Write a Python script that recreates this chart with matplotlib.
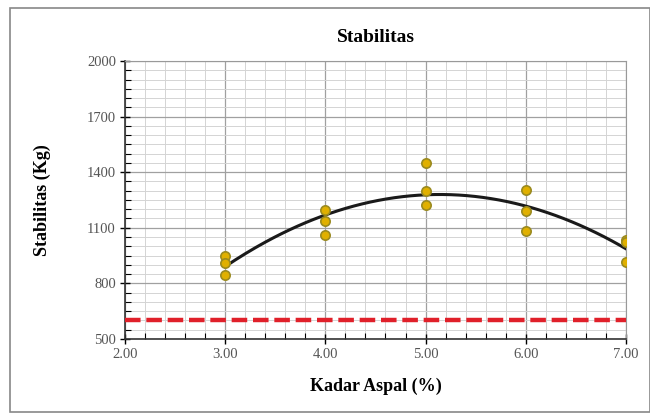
import matplotlib
matplotlib.use('Agg')
import matplotlib.pyplot as plt
import numpy as np
from matplotlib.patches import Rectangle
from matplotlib.ticker import MultipleLocator, FixedLocator, FormatStrFormatter

# kadar aspal (%) and stabilitas (kg)
kadar = [3, 3, 3, 4, 4, 4, 5, 5, 5, 6, 6, 6, 7, 7, 7]
stabilitas = [948, 912, 845, 1196, 1137, 1061, 1451, 1299, 1223,
              1304, 1191, 1083, 1034, 1022, 917]
batas_min = 600  # spesifikasi minimum

plt.rcParams['font.family'] = ['Liberation Serif', 'DejaVu Serif']

fig = plt.figure(figsize=(6.5, 4.2), dpi=100)
ax = fig.add_axes([0.1923, 0.193, 0.7707, 0.6618])

# trendline (polinomial orde 2)
coef = np.polyfit(kadar, stabilitas, 2)
xs = np.linspace(3, 7, 200)
ax.plot(xs, np.polyval(coef, xs), color='#1a1a1a', lw=2.2, zorder=3)

ax.scatter(kadar, stabilitas, s=45, color='#e0b000', edgecolors='#9a8a20',
           linewidths=1.2, zorder=4)

ax.plot([2, 7], [batas_min, batas_min], color='#e0202a', lw=3.2,
        ls=(0, (3.5, 1.3)), zorder=3)

ax.set_xlim(2, 7)
ax.set_ylim(500, 2000)
ax.xaxis.set_major_locator(MultipleLocator(1))
ax.xaxis.set_minor_locator(MultipleLocator(0.2))
ax.yaxis.set_major_locator(FixedLocator(np.arange(500, 2001, 300)))
ax.yaxis.set_minor_locator(MultipleLocator(50))
ax.xaxis.set_major_formatter(FormatStrFormatter('%.2f'))

ax.grid(which='major', color='#a0a0a0', lw=0.9)
ax.grid(which='minor', color='#d4d4d4', lw=0.7)
ax.set_axisbelow(True)

ax.tick_params(which='major', direction='inout', length=7, width=1,
               labelsize=10.5, labelcolor='#555555', pad=3)
ax.tick_params(which='minor', direction='in', length=4, width=0.8)
for side in ['left', 'bottom']:
    ax.spines[side].set_linewidth(1.2)
    ax.spines[side].set_color('#333333')
for side in ['top', 'right']:
    ax.spines[side].set_color('#999999')

ax.set_title('Stabilitas', fontsize=14, fontweight='bold', pad=14)
ax.set_xlabel('Kadar Aspal (%)', fontsize=13, fontweight='bold', labelpad=12)
ax.set_ylabel('Stabilitas (Kg)', fontsize=13, fontweight='bold', labelpad=26)

# bingkai chart
fig.patches.append(Rectangle((10 / 650, 8 / 420), 640 / 650, 404 / 420,
                             transform=fig.transFigure, fill=False,
                             edgecolor='#888888', lw=1.2))

fig.savefig('out.png', dpi=100)
